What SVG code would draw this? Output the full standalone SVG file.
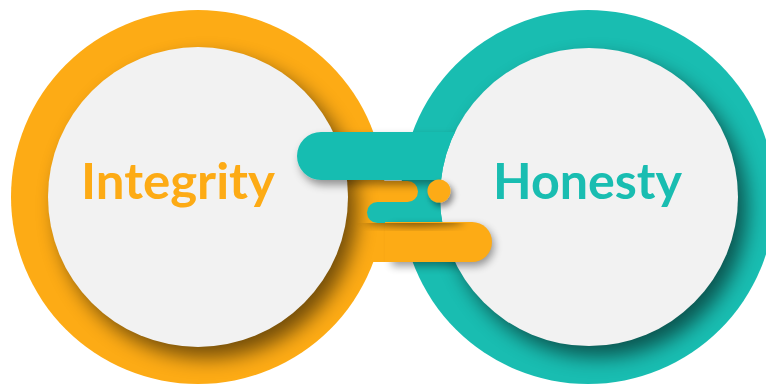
<svg xmlns="http://www.w3.org/2000/svg" width="766" height="384" viewBox="0 0 766 384">
  <style>
    .orange { fill: #FDAB15; }
    .teal { fill: #19BDB1; }
    .light { fill: #F2F2F2; }
    .label { font-family: "Lato", "Noto Sans", sans-serif; font-weight: 700; font-size: 49px; }
  </style>
  <defs>
    <filter id="blur" x="-30%" y="-30%" width="160%" height="160%">
      <feGaussianBlur stdDeviation="10"/>
    </filter>
    <filter id="blurSmall" x="-50%" y="-50%" width="200%" height="200%">
      <feGaussianBlur stdDeviation="4"/>
    </filter>
    <filter id="shadow" x="-50%" y="-50%" width="200%" height="200%">
      <feDropShadow dx="3" dy="5" stdDeviation="4" flood-color="#000" flood-opacity="0.4"/>
    </filter>
    <filter id="shadowSmall" x="-80%" y="-80%" width="260%" height="260%">
      <feDropShadow dx="3" dy="4" stdDeviation="3" flood-color="#000" flood-opacity="0.45"/>
    </filter>
    <clipPath id="clipOrangeRing">
      <circle cx="198" cy="197" r="187"/>
      <rect x="330" y="181" width="70" height="81"/>
    </clipPath>
    <clipPath id="clipTealRing"><circle cx="588" cy="197" r="187"/></clipPath>
    <clipPath id="noTealInner">
      <path clip-rule="evenodd" d="M0 0H766V384H0Z M440 197a149 149 0 1 0 298 0a149 149 0 1 0 -298 0Z"/>
    </clipPath>
    <clipPath id="belowSmallBar"><rect x="340" y="223" width="160" height="40"/></clipPath>
  </defs>

  <g id="node-integrity">
    <circle class="orange" cx="198" cy="197" r="187"/>
    <rect class="orange" x="330" y="181" width="70" height="81"/>
    <g clip-path="url(#clipOrangeRing)">
      <circle cx="207" cy="208" r="150" fill="#000" opacity="0.55" filter="url(#blur)"/>
    </g>
    <circle class="light" cx="198" cy="197" r="150"/>
    <text class="label" x="81" y="199" fill="#FDAB15" textLength="194" lengthAdjust="spacingAndGlyphs">Integrity</text>
  </g>

  <g id="node-honesty">
    <circle class="teal" cx="588" cy="197" r="187"/>
    <g clip-path="url(#clipTealRing)">
      <circle cx="598" cy="208" r="149" fill="#000" opacity="0.55" filter="url(#blur)"/>
    </g>
    <circle class="light" cx="589" cy="197" r="149"/>
    <text class="label" x="493" y="199" fill="#19BDB1" textLength="189" lengthAdjust="spacingAndGlyphs">Honesty</text>
  </g>

  <g id="connectors">
    <path class="orange" d="M385 181H407.5a10.5 10.5 0 0 1 0 21H385Z"/>
    <g clip-path="url(#noTealInner)">
      <rect class="teal" x="297" y="132" width="240" height="48" rx="24" filter="url(#shadow)"/>
      <rect class="teal" x="367" y="202" width="140" height="21" rx="10.5"/>
    </g>
    <path d="M392 226H474a20 20 0 0 1 0 40H392Z" fill="#000" opacity="0.4" filter="url(#blurSmall)"/>
    <path class="orange" d="M385 222H472a20 20 0 0 1 0 40H385Z"/>
    <g clip-path="url(#belowSmallBar)">
      <ellipse cx="414" cy="221" rx="50" ry="5" fill="#000" opacity="0.55" filter="url(#blurSmall)"/>
    </g>
    <circle class="orange" cx="439" cy="191" r="11.5" filter="url(#shadowSmall)"/>
  </g>
</svg>
